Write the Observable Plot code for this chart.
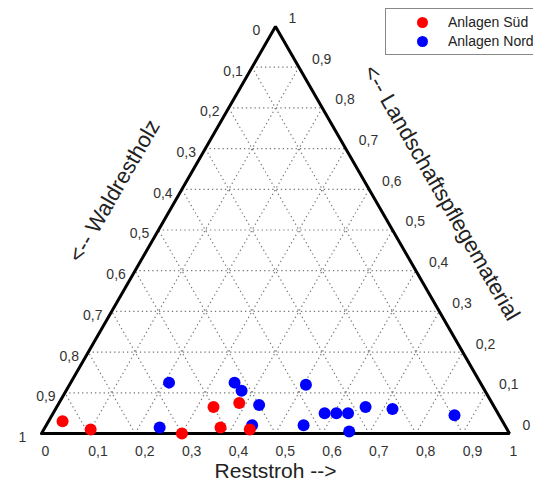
<!DOCTYPE html>
<html><head><meta charset="utf-8">
<script src="https://cdn.jsdelivr.net/npm/d3@7"></script>
<script src="https://cdn.jsdelivr.net/npm/@observablehq/plot@0.6"></script>
<style>
html,body{margin:0;padding:0;background:#fff;overflow:hidden}
#wrap{position:relative;width:533px;height:484px;overflow:hidden;background:#fff}
#wrap svg{position:absolute;left:0;top:0}
.legend{position:absolute;left:385px;top:8px;width:170px;height:47px;border:1px solid #888;background:#fff;
  font-family:"Liberation Sans",Arial,sans-serif;font-size:14px;color:#222;box-sizing:border-box}
.legend .row{position:absolute;left:0;height:17px;line-height:17px;white-space:nowrap}
.legend .mk{position:absolute;left:31px;top:3px;width:11px;height:11px;border-radius:50%}
.legend .tx{position:absolute;left:62px;top:0}
</style></head>
<body><div id="wrap"></div>
<script>
// Ticks
const ticks = [0, 0.1, 0.2, 0.3, 0.4, 0.5, 0.6, 0.7, 0.8, 0.9, 1];
const tickLabels = ["0", "0,1", "0,2", "0,3", "0,4", "0,5", "0,6", "0,7", "0,8", "0,9", "1"];
const gridTicks = [0.1, 0.2, 0.3, 0.4, 0.5, 0.6, 0.7, 0.8, 0.9];

// Axis titles
const titleBottom = "Reststroh -->";
const titleLeft = "<-- Waldrestholz";
const titleRight = "<-- Landschaftspflegematerial";

// Series names
const seriesNames = ["Anlagen Süd", "Anlagen Nord"];
const seriesColors = ["#ff0000", "#0000ff"];

// Anlagen Süd (shares of Reststroh, Landschaftspflegematerial, Waldrestholz)
const sudReststroh     = [0.03, 0.10, 0.30, 0.335, 0.375, 0.385, 0.44];
const sudLandschaft    = [0.03, 0.01, 0.00, 0.065, 0.015, 0.075, 0.01];
const sudWaldrestholz  = [0.94, 0.89, 0.70, 0.600, 0.610, 0.540, 0.55];

// Anlagen Nord
const nordReststroh    = [0.21, 0.245, 0.35, 0.375, 0.43, 0.44, 0.505, 0.55, 0.58, 0.605, 0.63, 0.655, 0.66, 0.72, 0.86];
const nordLandschaft   = [0.125, 0.015, 0.125, 0.105, 0.07, 0.02, 0.12, 0.02, 0.05, 0.05, 0.05, 0.005, 0.065, 0.06, 0.045];
const nordWaldrestholz = [0.665, 0.74, 0.525, 0.52, 0.50, 0.54, 0.375, 0.43, 0.37, 0.345, 0.32, 0.34, 0.275, 0.22, 0.095];

// ternary -> cartesian helpers (x = R + L/2, y = L)
const tx = (r, l) => r + l / 2;
const ty = (r, l) => l;

const sud = sudReststroh.map((r, i) => ({r, l: sudLandschaft[i], w: sudWaldrestholz[i]}));
const nord = nordReststroh.map((r, i) => ({r, l: nordLandschaft[i], w: nordWaldrestholz[i]}));

// vertices: (R,L) = (0,0) Wald corner, (1,0) Reststroh corner, (0,1) Landschaft corner
const vertices = [[0,0],[1,0],[0,1],[0,0]].map(([r,l]) => ({x: tx(r,l), y: ty(r,l)}));

const grid = [];
for (const t of gridTicks) {
  grid.push({x1: tx(0, t), y1: ty(0, t), x2: tx(1 - t, t), y2: ty(1 - t, t)});
  grid.push({x1: tx(t, 0), y1: ty(t, 0), x2: tx(t, 1 - t), y2: ty(t, 1 - t)});
  grid.push({x1: tx(1 - t, 0), y1: ty(1 - t, 0), x2: tx(0, 1 - t), y2: ty(0, 1 - t)});
}

const bottomTicks = ticks.map((t, i) => ({x: tx(t, 0), y: ty(t, 0), label: tickLabels[i]}));
const leftTicks = ticks.map((w, i) => ({x: tx(0, 1 - w), y: ty(0, 1 - w), label: tickLabels[i]}));
const rightTicks = ticks.map((l, i) => ({x: tx(1 - l, l), y: ty(1 - l, l), label: tickLabels[i]}));

const font = "Liberation Sans, Arial, sans-serif";
const tickFill = "#333";

const chart = Plot.plot({
  width: 533, height: 484,
  marginLeft: 41, marginRight: 24, marginTop: 26, marginBottom: 51,
  x: {domain: [0, 1], axis: null},
  y: {domain: [0, 1], axis: null},
  style: {fontFamily: font, background: "#fff", overflow: "visible"},
  marks: [
    Plot.link(grid, {x1: "x1", y1: "y1", x2: "x2", y2: "y2", stroke: "#777", strokeWidth: 1.2, strokeDasharray: "1.3,3"}),
    Plot.line(vertices, {x: "x", y: "y", stroke: "#000", strokeWidth: 3, strokeLinejoin: "miter"}),
    Plot.text(bottomTicks, {x: "x", y: "y", text: "label", textAnchor: "start", dx: 0, dy: 18, fontSize: 14, fill: tickFill}),
    Plot.text(leftTicks, {x: "x", y: "y", text: "label", textAnchor: "middle", dx: -19, dy: 4, fontSize: 14, fill: tickFill}),
    Plot.text(rightTicks, {x: "x", y: "y", text: "label", textAnchor: "start", dx: 13, dy: -8, fontSize: 14, fill: tickFill}),
    Plot.text([titleBottom], {x: () => tx(0.5, 0), y: () => ty(0.5, 0), text: d => d, dy: 38, fontSize: 21, fill: "#222"}),
    Plot.text([titleLeft], {x: () => tx(0, 0.5), y: () => ty(0, 0.5), text: d => d, dx: -44, dy: -39, rotate: -60, fontSize: 22, fill: "#222"}),
    Plot.text([titleRight], {x: () => tx(0.5, 0.5), y: () => ty(0.5, 0.5), text: d => d, dx: 49, dy: -37, rotate: 60, fontSize: 22, fill: "#222"}),
    Plot.dot(nord, {x: d => tx(d.r, d.l), y: d => ty(d.r, d.l), r: 6, fill: seriesColors[1], stroke: "none"}),
    Plot.dot(sud, {x: d => tx(d.r, d.l), y: d => ty(d.r, d.l), r: 6, fill: seriesColors[0], stroke: "none"})
  ]
});

const wrap = document.getElementById("wrap");
wrap.appendChild(chart);

const legend = document.createElement("div");
legend.className = "legend";
seriesNames.forEach((name, i) => {
  const row = document.createElement("div");
  row.className = "row";
  row.style.top = (5 + i * 19) + "px";
  row.style.width = "100%";
  row.innerHTML = `<span class="mk" style="background:${seriesColors[i]}"></span><span class="tx">${name}</span>`;
  legend.appendChild(row);
});
wrap.appendChild(legend);
</script>
</body></html>
